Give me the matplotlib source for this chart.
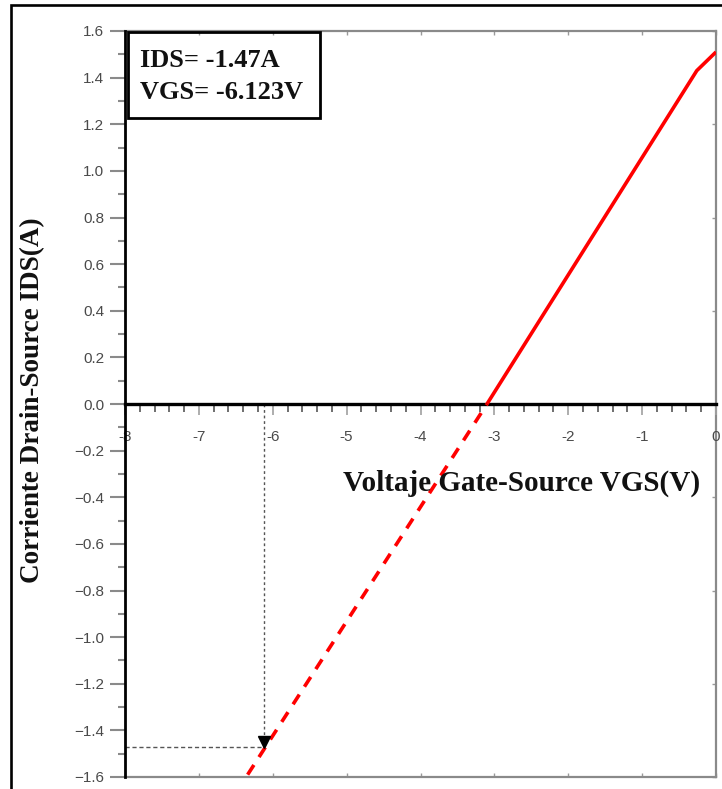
import matplotlib
matplotlib.use("Agg")
import matplotlib.pyplot as plt
from matplotlib.ticker import MultipleLocator, FixedLocator, FuncFormatter
from matplotlib.patches import Rectangle

# ---- data ----
vgs_solid = [-3.10, -0.26, 0.0]
ids_solid = [0.0, 1.43, 1.51]
vgs_dashed = [-6.34, -3.10]
ids_dashed = [-1.59, 0.0]
vgs_point = -6.123
ids_point = -1.47
x_ticks = [-8, -7, -6, -5, -4, -3, -2, -1, 0]
y_ticks = [-1.6, -1.4, -1.2, -1.0, -0.8, -0.6, -0.4, -0.2, 0.0, 0.2, 0.4, 0.6, 0.8, 1.0, 1.2, 1.4, 1.6]
annot_lines = ["IDS= -1.47A", "VGS= -6.123V"]
xlabel = "Voltaje Gate-Source VGS(V)"
ylabel = "Corriente Drain-Source IDS(A)"

W, H = 722, 789
fig = plt.figure(figsize=(W / 100, H / 100), dpi=100)
fig.patch.set_facecolor("white")

# outer black frame (left & top visible)
fig.add_artist(Rectangle((11 / W, -0.05), 1.2, 1 - 5 / H + 0.05, transform=fig.transFigure,
                         fill=False, edgecolor="black", linewidth=1.9, zorder=0))

pos = [125 / W, 1 - 777 / H, (716 - 125) / W, (777 - 31) / H]
xlim = (-8, 0)
ylim = (-1.6, 1.6)

# frame axes (gray box with inward ticks)
fr = fig.add_axes(pos)
fr.set_xlim(*xlim)
fr.set_ylim(*ylim)
for s in ["top", "right", "bottom"]:
    fr.spines[s].set_color("#8a8a8a")
    fr.spines[s].set_linewidth(1.6)
fr.spines["left"].set_visible(False)
fr.xaxis.set_major_locator(FixedLocator(x_ticks))
fr.yaxis.set_major_locator(FixedLocator(y_ticks[::2]))
fr.tick_params(axis="x", which="both", direction="in", top=True, bottom=True,
               labelbottom=False, length=3, color="#9a9a9a", width=1)
fr.tick_params(axis="y", which="both", direction="in", right=True, left=False,
               labelleft=False, length=3, color="#9a9a9a", width=1)

# main axes
ax = fig.add_axes(pos)
ax.patch.set_alpha(0)
ax.set_xlim(*xlim)
ax.set_ylim(*ylim)
ax.spines["top"].set_visible(False)
ax.spines["right"].set_visible(False)
ax.spines["bottom"].set_position(("data", 0))
ax.spines["bottom"].set_linewidth(2.4)
ax.spines["bottom"].set_color("black")
ax.spines["left"].set_linewidth(2.0)
ax.spines["left"].set_color("black")
ax.spines["left"].set_zorder(5)

ax.xaxis.set_major_locator(FixedLocator(x_ticks))
ax.xaxis.set_minor_locator(MultipleLocator(0.2))
ax.yaxis.set_major_locator(FixedLocator(y_ticks))
ax.yaxis.set_minor_locator(MultipleLocator(0.1))
ax.xaxis.set_major_formatter(FuncFormatter(lambda v, p: f"{v:.0f}"))
ax.yaxis.set_major_formatter(FuncFormatter(lambda v, p: f"{v:.1f}".replace("-", "\u2212")))

tick_font = "Liberation Sans"
ax.tick_params(axis="x", which="major", direction="out", length=8, width=1.2,
               color="#a0a0a0", pad=11, labelsize=11, labelcolor="#4a4a4a")
ax.tick_params(axis="x", which="minor", direction="out", length=6, width=1.2, color="#555555")
ax.tick_params(axis="y", which="major", direction="out", length=11, width=1.5,
               color="#8a8a8a", pad=4, labelsize=11, labelcolor="#4a4a4a")
ax.tick_params(axis="y", which="minor", direction="out", length=5, width=1.5, color="#8a8a8a")
for lab in ax.get_xticklabels() + ax.get_yticklabels():
    lab.set_fontfamily(tick_font)

# red curve
ax.plot(vgs_solid, ids_solid, color="#ff0000", linewidth=2.6, solid_capstyle="butt", zorder=3)
ax.plot(vgs_dashed, ids_dashed, color="#ff0000", linewidth=2.6, linestyle=(0, (3.2, 2.6)),
        dash_capstyle="butt", zorder=3)

# guide lines
ax.plot([vgs_point, vgs_point], [0, ids_point + 0.04], color="#555555", linewidth=1.0,
        linestyle=(0, (2, 2)), zorder=2)
ax.plot([xlim[0], vgs_point], [ids_point, ids_point], color="#555555", linewidth=1.0,
        linestyle=(0, (3, 2)), zorder=2)
ax.plot([vgs_point], [ids_point + 0.02], marker="v", color="black", markersize=9, zorder=4)

# annotation box
ax.add_patch(Rectangle((0.005, 0.883), 0.325, 0.1157, transform=ax.transAxes,
                       fill=False, edgecolor="black", linewidth=2.0, zorder=6, clip_on=False))
ax.text(0.025, 0.952, annot_lines[0], transform=ax.transAxes, family="Liberation Serif",
        fontweight="bold", fontsize=19, color="#111111", va="baseline", ha="left")
ax.text(0.025, 0.909, annot_lines[1], transform=ax.transAxes, family="Liberation Serif",
        fontweight="bold", fontsize=19, color="#111111", va="baseline", ha="left")

# axis labels
ax.text(0.369, 0.393, xlabel, transform=ax.transAxes, family="Liberation Serif",
        fontweight="bold", fontsize=21, color="#111111", va="center", ha="left")
fig.text(33 / W, 1 - 400 / H, ylabel, family="Liberation Serif", fontweight="bold",
         fontsize=19.5, color="#111111", rotation=90, va="center", ha="center")

fig.savefig("out.png", dpi=100, facecolor="white")
